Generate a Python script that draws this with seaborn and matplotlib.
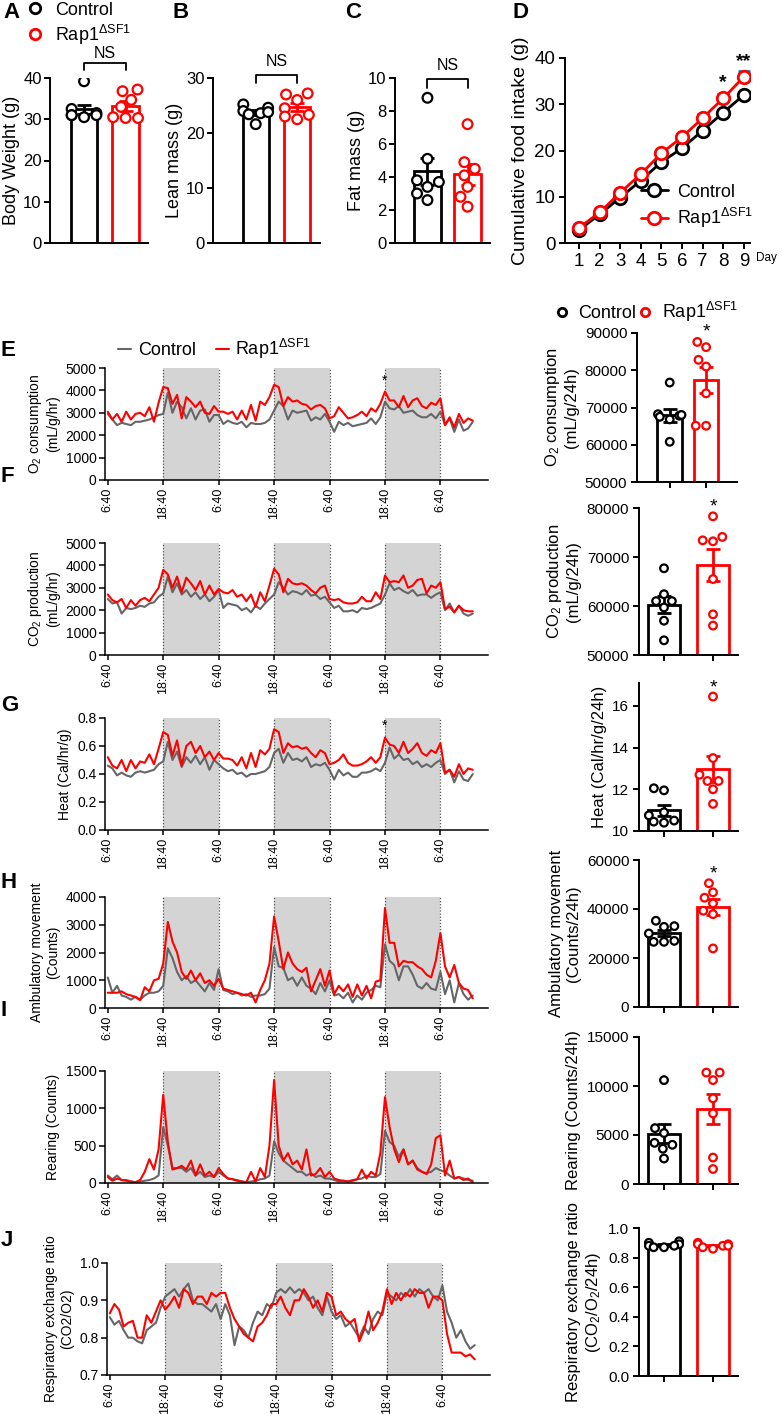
import numpy as np
import pandas as pd
import matplotlib
matplotlib.use("Agg")
import matplotlib.pyplot as plt
from matplotlib.lines import Line2D
from matplotlib.collections import PathCollection
import seaborn as sns

try:
    from seaborn.categorical import Beeswarm
except Exception:  # pragma: no cover
    Beeswarm = None

# ----------------------------------------------------------------- data
GROUPS = ["Control", "Rap1"]
RAP_LABEL = r"Rap1$^{\Delta\mathrm{SF1}}$"

BODY_CTRL = [39.2, 32.5, 31.5, 31.0, 31.0, 30.5, 31.0]
BODY_RAP = [37.2, 36.8, 34.7, 33.0, 30.3, 30.3, 30.5]
LEAN_CTRL = [25.2, 24.6, 24.0, 23.6, 23.4, 23.8, 21.6]
LEAN_RAP = [27.0, 27.2, 26.0, 24.5, 23.3, 23.0, 22.5]
FAT_CTRL = [8.8, 5.1, 3.8, 3.7, 3.4, 3.0, 2.6]
FAT_RAP = [7.2, 4.9, 4.5, 4.1, 3.4, 2.8, 2.2]

DAYS = [1, 2, 3, 4, 5, 6, 7, 8, 9]
FOOD_CTRL = [2.8, 6.2, 9.8, 13.5, 17.5, 20.5, 24.3, 28.2, 32.0]
FOOD_RAP = [3.3, 6.6, 10.9, 14.9, 19.4, 22.9, 27.0, 31.3, 35.9]
FOOD_SEM_CTRL = [0.2, 0.3, 0.3, 0.4, 0.4, 0.5, 0.5, 0.5, 0.6]
FOOD_SEM_RAP = [0.3, 0.4, 0.5, 0.5, 0.6, 0.6, 0.8, 1.0, 1.3]

O2_24_CTRL = [76700, 68200, 67800, 68000, 67500, 66800, 60800]
O2_24_RAP = [87600, 86200, 82800, 81000, 73800, 65100, 65100]
CO2_24_CTRL = [67700, 62400, 61000, 61000, 59700, 57000, 53000]
CO2_24_RAP = [78300, 74100, 73200, 73400, 65500, 58300, 56000]
HEAT_24_CTRL = [12.05, 11.95, 10.9, 10.75, 10.5, 10.4, 10.45]
HEAT_24_RAP = [16.45, 13.5, 12.7, 12.4, 12.4, 12.0, 11.3]
AMB_24_CTRL = [35200, 32700, 33000, 30000, 26600, 26600, 27000]
AMB_24_RAP = [50500, 46800, 44600, 42300, 37900, 39300, 23900]
REAR_24_CTRL = [10600, 5700, 5200, 4200, 4000, 3600, 2600]
REAR_24_RAP = [11370, 11370, 10600, 8740, 7200, 2700, 1530]
RER_24_CTRL = [0.91, 0.90, 0.89, 0.88, 0.88, 0.87, 0.87]
RER_24_RAP = [0.90, 0.89, 0.89, 0.88, 0.88, 0.87, 0.86]

TIME_TICKS = [0, 12, 24, 36, 48, 60, 72]
TIME_LABELS = ["6:40", "18:40", "6:40", "18:40", "6:40", "18:40", "6:40"]
DARK_STARTS = [12, 36, 60]

O2_CTRL = [2950, 2700, 2450, 2550, 2500, 2450, 2600, 2600, 2650, 2700, 2800, 2900, 2950,
           3900, 3000, 3500, 3250, 2750, 3200, 2700, 3100, 3150, 2600, 2900, 2900,
           2500, 2650, 2550, 2500, 2600, 2350, 2550, 2500, 2500, 2550, 2700, 3100,
           3500, 3300, 2700, 3100, 3000, 3050, 3100, 2650, 2800, 2700, 2950, 2600,
           2150, 2600, 2450, 2550, 2400, 2450, 2500, 2550, 2750, 2500, 2800, 3500,
           3200, 3150, 3300, 3000, 3050, 3100, 2900, 2800, 2800, 2950, 2750, 3050,
           2450, 2750, 2150, 2700, 2200, 2300, 2600]
O2_RAP = [3050, 2700, 2950, 2600, 3050, 2700, 2950, 3000, 2850, 3250, 2600, 3450, 4150,
          4100, 3400, 3800, 2750, 3700, 3500, 3250, 3500, 3000, 2950, 3300, 3050,
          3050, 2950, 3050, 2700, 3100, 2700, 3350, 2650, 3500, 3350, 3700, 4250,
          4150, 3300, 3700, 3500, 3550, 3400, 3350, 3150, 3300, 3350, 3200, 2750,
          2850, 3250, 3000, 2750, 2800, 2900, 3050, 2850, 3200, 3050, 3400, 3950,
          3550, 3550, 3250, 3750, 3250, 3550, 3650, 3300, 3200, 3450, 3350, 3650,
          2450, 2800, 2350, 2950, 2550, 2750, 2650]

CO2_CTRL = [2500, 2300, 2350, 1850, 2100, 2050, 2100, 2200, 2150, 2300, 2350, 2600, 2750,
            3500, 2800, 3200, 2700, 2900, 2600, 2800, 2500, 2700, 2400, 2600, 2900,
            2100, 2300, 2250, 2200, 2000, 2100, 1900, 2200, 2050, 2300, 2500, 2700,
            3250, 3000, 2700, 2850, 2800, 2700, 2900, 2650, 2700, 2500, 2600, 2350,
            2100, 2200, 1950, 1950, 2000, 1900, 2100, 2050, 2100, 2200, 2300, 2700,
            3200, 2900, 3000, 2850, 2750, 2900, 2650, 2700, 2700, 2550, 2700, 2800,
            2000, 2300, 1900, 2200, 1850, 1750, 1850]
CO2_RAP = [2700, 2450, 2350, 2500, 2100, 2450, 2200, 2450, 2550, 2400, 2700, 3000, 3800,
           3600, 3000, 3500, 2800, 3450, 3200, 2900, 3300, 2700, 3100, 2700, 2950,
           2800, 2750, 2900, 2600, 2700, 2400, 2700, 2150, 2800, 2400, 3100, 3850,
           3600, 2800, 3400, 3200, 3150, 3200, 3100, 2900, 2750, 3000, 3100, 2500,
           2450, 2500, 2350, 2300, 2300, 2350, 2600, 2400, 2400, 2800, 2500, 3550,
           3250, 3300, 3250, 3550, 3000, 3100, 3350, 3400, 2750, 3100, 3000, 3250,
           2050, 2150, 1900, 2200, 2000, 1950, 1950]

HEAT_CTRL = [0.46, 0.44, 0.39, 0.41, 0.39, 0.38, 0.41, 0.42, 0.41, 0.42, 0.43, 0.47, 0.49,
             0.63, 0.50, 0.56, 0.45, 0.52, 0.48, 0.53, 0.47, 0.52, 0.43, 0.50, 0.47,
             0.44, 0.42, 0.43, 0.40, 0.41, 0.38, 0.40, 0.40, 0.41, 0.42, 0.45, 0.55,
             0.58, 0.48, 0.55, 0.50, 0.51, 0.49, 0.52, 0.45, 0.47, 0.46, 0.48, 0.43,
             0.36, 0.43, 0.39, 0.41, 0.38, 0.38, 0.41, 0.41, 0.42, 0.44, 0.42, 0.48,
             0.59, 0.51, 0.54, 0.50, 0.51, 0.47, 0.49, 0.45, 0.47, 0.45, 0.48, 0.50,
             0.40, 0.43, 0.34, 0.42, 0.36, 0.35, 0.40]
HEAT_RAP = [0.52, 0.46, 0.44, 0.50, 0.42, 0.50, 0.44, 0.49, 0.48, 0.54, 0.47, 0.58, 0.70,
            0.68, 0.53, 0.64, 0.46, 0.60, 0.63, 0.55, 0.60, 0.52, 0.56, 0.50, 0.55,
            0.51, 0.51, 0.50, 0.46, 0.52, 0.44, 0.55, 0.45, 0.57, 0.54, 0.58, 0.72,
            0.70, 0.55, 0.62, 0.59, 0.60, 0.58, 0.59, 0.55, 0.52, 0.57, 0.55, 0.47,
            0.48, 0.50, 0.54, 0.48, 0.46, 0.46, 0.47, 0.49, 0.52, 0.48, 0.52, 0.66,
            0.61, 0.60, 0.55, 0.63, 0.55, 0.58, 0.62, 0.55, 0.53, 0.57, 0.55, 0.62,
            0.41, 0.43, 0.38, 0.47, 0.40, 0.44, 0.43]

AMB_CTRL = [1100, 550, 800, 450, 400, 300, 400, 300, 450, 550, 550, 600, 800,
            2150, 1800, 1300, 1000, 1150, 900, 1000, 800, 600, 900, 650, 1400,
            650, 600, 500, 550, 450, 500, 400, 450, 450, 500, 700, 2200,
            1500, 1450, 1000, 1100, 800, 1100, 800, 700, 500, 900, 600, 1000,
            450, 500, 350, 550, 200, 450, 300, 550, 650, 800, 750, 2300,
            1700, 1550, 1000, 1500, 1500, 1200, 800, 700, 900, 700, 650, 1300,
            500, 1000, 200, 900, 500, 300, 450]
AMB_RAP = [550, 550, 550, 600, 500, 450, 400, 280, 750, 600, 1000, 1050, 1600,
           3100, 2400, 2000, 1300, 1050, 1350, 1000, 1250, 900, 1000, 800, 1050,
           700, 650, 600, 550, 500, 450, 550, 200, 650, 1000, 1600, 3300,
           2400, 1400, 2000, 1600, 1400, 1300, 1450, 600, 1000, 1400, 800, 1350,
           500, 800, 600, 850, 400, 850, 450, 800, 350, 950, 1000, 3600,
           2350, 2350, 1500, 1700, 1650, 1650, 1500, 1400, 1200, 1100, 1700, 2700,
           1500, 1100, 1550, 900, 700, 650, 350]

REAR_CTRL = [100, 50, 100, 40, 40, 20, 10, 20, 30, 40, 60, 100, 750,
             500, 200, 200, 200, 150, 200, 100, 150, 80, 100, 80, 150,
             100, 60, 50, 40, 20, 10, 20, 30, 50, 60, 100, 560,
             400, 300, 250, 200, 150, 150, 100, 130, 80, 100, 60, 60,
             40, 20, 30, 20, 40, 50, 60, 100, 80, 80, 120, 700,
             550, 500, 350, 450, 250, 300, 200, 150, 130, 150, 200, 170,
             150, 100, 60, 80, 60, 40, 30]
REAR_RAP = [80, 30, 60, 40, 30, 20, 10, 40, 150, 320, 180, 450, 1180,
            550, 180, 200, 230, 180, 300, 100, 250, 100, 150, 80, 200,
            120, 60, 50, 30, 20, 10, 150, 20, 200, 80, 500, 1380,
            500, 300, 400, 250, 300, 180, 450, 100, 120, 200, 80, 150,
            60, 40, 30, 20, 30, 50, 180, 60, 150, 100, 400, 1150,
            750, 450, 280, 450, 250, 300, 180, 150, 120, 250, 600, 640,
            100, 300, 60, 80, 40, 60, 10]

RER_CTRL = [0.855, 0.835, 0.845, 0.82, 0.80, 0.80, 0.79, 0.785, 0.82, 0.83, 0.84, 0.88, 0.91,
            0.92, 0.93, 0.91, 0.93, 0.945, 0.90, 0.89, 0.89, 0.88, 0.87, 0.89, 0.85,
            0.89, 0.86, 0.78, 0.83, 0.82, 0.80, 0.84, 0.87, 0.86, 0.89, 0.88, 0.92,
            0.93, 0.92, 0.935, 0.92, 0.93, 0.92, 0.90, 0.91, 0.88, 0.86, 0.91, 0.87,
            0.85, 0.86, 0.83, 0.84, 0.82, 0.80, 0.83, 0.81, 0.85, 0.87, 0.86, 0.92,
            0.91, 0.90, 0.92, 0.91, 0.93, 0.91, 0.93, 0.92, 0.93, 0.91, 0.90, 0.94,
            0.87, 0.84, 0.80, 0.82, 0.79, 0.77, 0.78]
RER_RAP = [0.865, 0.89, 0.875, 0.83, 0.84, 0.845, 0.80, 0.80, 0.86, 0.84, 0.87, 0.90, 0.875,
           0.89, 0.91, 0.88, 0.93, 0.92, 0.89, 0.91, 0.91, 0.89, 0.92, 0.91, 0.92,
           0.92, 0.88, 0.85, 0.83, 0.81, 0.80, 0.79, 0.83, 0.84, 0.86, 0.89, 0.89,
           0.91, 0.88, 0.86, 0.90, 0.90, 0.93, 0.91, 0.88, 0.90, 0.87, 0.92, 0.91,
           0.86, 0.87, 0.85, 0.84, 0.85, 0.79, 0.82, 0.87, 0.82, 0.84, 0.87, 0.93,
           0.89, 0.92, 0.90, 0.92, 0.91, 0.93, 0.92, 0.92, 0.88, 0.91, 0.91, 0.90,
           0.81, 0.76, 0.76, 0.76, 0.75, 0.755, 0.742]

# ----------------------------------------------------------------- style
sns.set_style("ticks")
plt.rcParams["font.family"] = ["Liberation Sans", "DejaVu Sans"]
plt.rcParams["mathtext.fontset"] = "custom"
plt.rcParams["mathtext.rm"] = "Liberation Sans"
plt.rcParams["mathtext.it"] = "Liberation Sans:italic"
plt.rcParams["mathtext.bf"] = "Liberation Sans:bold"
plt.rcParams["axes.edgecolor"] = "black"
plt.rcParams["xtick.color"] = "black"
plt.rcParams["ytick.color"] = "black"
plt.rcParams["text.color"] = "black"
plt.rcParams["axes.labelcolor"] = "black"

BLACK = "#000000"
RED = "#ff0000"
GREY = "#666666"
SHADE = "#d4d4d4"
BAR_PAL = {"Control": BLACK, "Rap1": RED}
TS_PAL = {"Control": GREY, "Rap1": RED}

W, H = 782, 1414
fig = plt.figure(figsize=(W / 100, H / 100), dpi=100)


def px_ax(l, t, r, b):
    return fig.add_axes([l / W, 1 - b / H, (r - l) / W, (b - t) / H])


def style_axes(ax, lw, pad=3):
    sns.despine(ax=ax)
    for s in ("left", "bottom"):
        ax.spines[s].set_linewidth(lw)
    ax.tick_params(width=lw, length=4, direction="out", pad=pad)


def narrow_swarm(coll, swarm_width):
    """Re-run seaborn's beeswarm layout with a narrower swarm width."""
    if Beeswarm is None:
        return
    try:
        bs = Beeswarm(orient="x", width=swarm_width, warn_thresh=1.0)
    except TypeError:
        return
    center = float(np.round(np.mean(np.asarray(coll.get_offsets())[:, 0])))

    def draw(points, renderer, *, center=center):
        bs(points, center)
        PathCollection.draw(points, renderer)

    coll.draw = draw.__get__(coll)


def bar_panel(ax, ctrl, rap, ylim, yticks, yticklabels, ylabel, width, xlim,
              msize, tick_fs, label_fs, show_xticks=True, labelpad=4, pad=3):
    df = pd.DataFrame({"group": [GROUPS[0]] * len(ctrl) + [GROUPS[1]] * len(rap),
                       "value": list(ctrl) + list(rap)})
    sns.barplot(data=df, x="group", y="value", hue="group", order=GROUPS,
                hue_order=GROUPS, palette=BAR_PAL, errorbar=None, fill=False,
                linewidth=2, width=width, legend=False, ax=ax)
    for i, (g, vals) in enumerate(zip(GROUPS, (ctrl, rap))):
        arr = np.asarray(vals, float)
        sem = arr.std(ddof=1) / np.sqrt(len(arr))
        ax.errorbar(i, arr.mean(), yerr=sem, fmt="none", ecolor=BAR_PAL[g],
                    elinewidth=2, capsize=5, capthick=2, zorder=2.5)
    n_before = len(ax.collections)
    sns.swarmplot(data=df, x="group", y="value", hue="group", order=GROUPS,
                  hue_order=GROUPS, palette=BAR_PAL, size=msize, linewidth=1.6,
                  warn_thresh=1.0, legend=False, ax=ax, zorder=3)
    for coll in ax.collections[n_before:]:
        if isinstance(coll, PathCollection):
            fc = coll.get_facecolors()
            if len(fc):
                coll.set_edgecolors(fc.copy())
                coll.set_facecolors("white")
            narrow_swarm(coll, width * 0.95)
    ax.set_ylim(*ylim)
    ax.set_yticks(yticks, yticklabels, fontsize=tick_fs)
    ax.set_xlim(*xlim)
    ax.set_xlabel("")
    ax.set_ylabel(ylabel, fontsize=label_fs, labelpad=labelpad)
    style_axes(ax, 1.4, pad=pad)
    if show_xticks:
        ax.set_xticks([0, 1], ["", ""])
    else:
        ax.tick_params(axis="x", length=0, labelbottom=False)


def ts_panel(ax, ctrl, rap, ylim, yticks, yticklabels, ylabel):
    hours = np.arange(len(ctrl))
    for s in DARK_STARTS:
        ax.axvspan(s, s + 12, color=SHADE, lw=0, zorder=0)
        for xv in (s, s + 12):
            ax.axvline(xv, color="#555555", lw=0.9, ls=(0, (1, 1.5)), zorder=1)
    df = pd.DataFrame({"t": np.concatenate([hours, hours]),
                       "value": list(ctrl) + list(rap),
                       "group": [GROUPS[0]] * len(ctrl) + [GROUPS[1]] * len(rap)})
    sns.lineplot(data=df, x="t", y="value", hue="group", hue_order=GROUPS,
                 palette=TS_PAL, linewidth=1.5, errorbar=None, legend=False,
                 ax=ax, zorder=2)
    ax.set_xlim(-0.6, 82.3)
    ax.set_ylim(*ylim)
    ax.set_yticks(yticks, yticklabels, fontsize=10)
    ax.set_xticks(TIME_TICKS, TIME_LABELS, rotation=90, fontsize=9)
    ax.set_xlabel("")
    ax.set_ylabel(ylabel, fontsize=10)
    style_axes(ax, 1.1, pad=2)
    ax.tick_params(axis="x", length=3.5)


# ----------------------------------------------------------------- top row
axA = px_ax(50, 78, 148, 243)
bar_panel(axA, BODY_CTRL, BODY_RAP, (0, 40), [0, 10, 20, 30, 40],
          ["0", "10", "20", "30", "40"], "Body Weight (g)", 0.63, (-0.82, 1.54),
          7, 12, 13, show_xticks=False, labelpad=2, pad=2)
axB = px_ax(213, 78, 320, 243)
bar_panel(axB, LEAN_CTRL, LEAN_RAP, (0, 30), [0, 10, 20, 30],
          ["0", "10", "20", "30"], "Lean mass (g)", 0.63, (-1.03, 1.55),
          7, 12, 13, show_xticks=False, labelpad=2, pad=2)
axC = px_ax(395, 78, 490, 243)
bar_panel(axC, FAT_CTRL, FAT_RAP, (0, 10), [0, 2, 4, 6, 8, 10],
          ["0", "2", "4", "6", "8", "10"], "Fat mass (g)", 0.66, (-0.81, 1.56),
          7, 12, 13, show_xticks=False, labelpad=2, pad=2)

for ax, ybar, yleg, ytxt in ((axA, 43.6, 41.9, 45.9), (axB, 30.5, 29.1, 33.0),
                             (axC, 9.94, 9.4, 10.75)):
    ax.plot([0, 0, 1, 1], [yleg, ybar, ybar, yleg], color="black", lw=1.3,
            clip_on=False)
    ax.text(0.5, ytxt, "NS", ha="center", va="center", fontsize=11.5)

# D: cumulative food intake
axD = px_ax(565, 58, 750, 243)
food_df = pd.DataFrame({"day": DAYS + DAYS, "value": FOOD_CTRL + FOOD_RAP,
                        "group": [GROUPS[0]] * len(DAYS) + [GROUPS[1]] * len(DAYS)})
for g, vals, sems in ((GROUPS[0], FOOD_CTRL, FOOD_SEM_CTRL),
                      (GROUPS[1], FOOD_RAP, FOOD_SEM_RAP)):
    axD.errorbar(DAYS, vals, yerr=[np.zeros(len(sems)), sems], fmt="none",
                 ecolor=BAR_PAL[g], elinewidth=2, capsize=4, capthick=2, zorder=2)
sns.lineplot(data=food_df, x="day", y="value", hue="group", hue_order=GROUPS,
             palette=BAR_PAL, marker="o", markersize=9, markerfacecolor="white",
             markeredgewidth=2, linewidth=2, errorbar=None, legend=False, ax=axD,
             zorder=3)
for ln in axD.lines:
    ln.set_markeredgecolor(ln.get_color())
axD.set_xlim(0.32, 9.3)
axD.set_ylim(0, 40)
axD.set_xticks(DAYS, [str(d) for d in DAYS], fontsize=13.5)
axD.set_yticks([0, 10, 20, 30, 40], ["0", "10", "20", "30", "40"], fontsize=13.5)
axD.set_xlabel("")
axD.set_ylabel("Cumulative food intake (g)", fontsize=14)
style_axes(axD, 1.4)
axD.text(8, 34.6, "*", ha="center", va="center", fontsize=14, fontweight="bold")
axD.text(9, 39.2, "**", ha="center", va="center", fontsize=14, fontweight="bold",
         clip_on=False)
fig.text(756 / W, 1 - 258 / H, "Day", fontsize=8.5, ha="left", va="center")
d_handles = [Line2D([], [], color=BLACK, lw=2, marker="o", ms=9, mfc="white",
                    mec=BLACK, mew=2),
             Line2D([], [], color=RED, lw=2, marker="o", ms=9, mfc="white",
                    mec=RED, mew=2)]
axD.legend(d_handles, ["Control", RAP_LABEL], loc="upper left",
           bbox_to_anchor=(0.37, 0.36), frameon=False, fontsize=13,
           handlelength=1.5, handletextpad=0.5, labelspacing=0.3, borderaxespad=0)

# ----------------------------------------------------------------- time series
axE = px_ax(105, 368, 488, 480)
ts_panel(axE, O2_CTRL, O2_RAP, (0, 5000), [0, 1000, 2000, 3000, 4000, 5000],
         ["0", "1000", "2000", "3000", "4000", "5000"],
         "O$_2$ consumption\n(mL/g/hr)")
axE.text(60, 4420, "*", ha="center", va="center", fontsize=10)

axF = px_ax(105, 543, 488, 655)
ts_panel(axF, CO2_CTRL, CO2_RAP, (0, 5000), [0, 1000, 2000, 3000, 4000, 5000],
         ["0", "1000", "2000", "3000", "4000", "5000"],
         "CO$_2$ production\n(mL/g/hr)")

axG = px_ax(105, 718, 488, 830)
ts_panel(axG, HEAT_CTRL, HEAT_RAP, (0, 0.8), [0, 0.2, 0.4, 0.6, 0.8],
         ["0.0", "0.2", "0.4", "0.6", "0.8"], "Heat (Cal/hr/g)")
axG.text(60, 0.743, "*", ha="center", va="center", fontsize=10)

axH = px_ax(105, 897, 488, 1008)
ts_panel(axH, AMB_CTRL, AMB_RAP, (0, 4000), [0, 1000, 2000, 3000, 4000],
         ["0", "1000", "2000", "3000", "4000"], "Ambulatory movement\n(Counts)")

axI = px_ax(105, 1071, 488, 1183)
ts_panel(axI, REAR_CTRL, REAR_RAP, (0, 1500), [0, 500, 1000, 1500],
         ["0", "500", "1000", "1500"], "Rearing (Counts)")

axJ = px_ax(107, 1263, 490, 1375)
ts_panel(axJ, RER_CTRL, RER_RAP, (0.7, 1.0), [0.7, 0.8, 0.9, 1.0],
         ["0.7", "0.8", "0.9", "1.0"], "Respiratory exchange ratio\n(CO2/O2)")

fig.legend([Line2D([], [], color=GREY, lw=1.5), Line2D([], [], color=RED, lw=1.5)],
           ["Control", RAP_LABEL], loc="center left",
           bbox_to_anchor=(116 / W, 1 - 349 / H), ncol=2, frameon=False,
           fontsize=13, handlelength=0.75, handletextpad=0.35, columnspacing=1.1,
           borderaxespad=0, borderpad=0.1)

# ----------------------------------------------------------------- right bars
xl_e = (-0.9, 1.85)
xl_r = (-0.51, 1.51)
axE2 = px_ax(637, 333, 737, 482)
bar_panel(axE2, O2_24_CTRL, O2_24_RAP, (50000, 90000),
          [50000, 60000, 70000, 80000, 90000],
          ["50000", "60000", "70000", "80000", "90000"],
          "O$_2$ consumption\n(mL/g/24h)", 0.68, xl_e, 5.5, 11, 12)
axE2.text(1, 90200, "*", ha="center", va="center", fontsize=14, clip_on=False)

axF2 = px_ax(639, 508, 738, 655)
bar_panel(axF2, CO2_24_CTRL, CO2_24_RAP, (50000, 80000),
          [50000, 60000, 70000, 80000], ["50000", "60000", "70000", "80000"],
          "CO$_2$ production\n(mL/g/24h)", 0.65, xl_r, 5.5, 11, 12)
axF2.text(1, 80200, "*", ha="center", va="center", fontsize=14, clip_on=False)

axG2 = px_ax(639, 683, 738, 831)
bar_panel(axG2, HEAT_24_CTRL, HEAT_24_RAP, (10, 17.1), [10, 12, 14, 16],
          ["10", "12", "14", "16"], "Heat (Cal/hr/g/24h)", 0.65, xl_r, 5.5, 11, 12)
axG2.text(1, 16.85, "*", ha="center", va="center", fontsize=14, clip_on=False)

axH2 = px_ax(639, 860, 738, 1007)
bar_panel(axH2, AMB_24_CTRL, AMB_24_RAP, (0, 60000), [0, 20000, 40000, 60000],
          ["0", "20000", "40000", "60000"],
          "Ambulatory movement\n(Counts/24h)", 0.65, xl_r, 5.5, 11, 12)
axH2.text(1, 54300, "*", ha="center", va="center", fontsize=14, clip_on=False)

axI2 = px_ax(639, 1037, 738, 1184)
bar_panel(axI2, REAR_24_CTRL, REAR_24_RAP, (0, 15000), [0, 5000, 10000, 15000],
          ["0", "5000", "10000", "15000"], "Rearing (Counts/24h)", 0.65, xl_r,
          5.5, 11, 12)

axJ2 = px_ax(639, 1228, 738, 1376)
bar_panel(axJ2, RER_24_CTRL, RER_24_RAP, (0, 1.0), [0, 0.2, 0.4, 0.6, 0.8, 1.0],
          ["0.0", "0.2", "0.4", "0.6", "0.8", "1.0"],
          "Respiratory exchange ratio\n(CO$_2$/O$_2$/24h)", 0.65, xl_r, 5.5, 11, 12)

# ----------------------------------------------------------------- legends
def circle(c, ms):
    return Line2D([], [], ls="none", marker="o", ms=ms, mfc="white", mec=c, mew=2)


fig.legend([circle(BLACK, 7.5), circle(RED, 7.5)], ["Control", RAP_LABEL],
           loc="upper left", bbox_to_anchor=(24 / W, 1 - 0 / H), frameon=False,
           fontsize=13, handlelength=1.0, handletextpad=0.6, labelspacing=0.2,
           borderaxespad=0, borderpad=0.1)
fig.legend([circle(BLACK, 6), circle(RED, 6)], ["Control", RAP_LABEL],
           loc="center left", bbox_to_anchor=(553 / W, 1 - 312 / H), ncol=2,
           frameon=False, fontsize=13, handlelength=0.8, handletextpad=0.5,
           columnspacing=0.1, borderaxespad=0, borderpad=0.1)

# ----------------------------------------------------------------- panel letters
for letter, x, y in (("A", 3, 12), ("B", 172, 12), ("C", 345, 12), ("D", 513, 12),
                     ("E", 1, 350), ("F", 1, 476), ("G", 1, 705), ("H", 1, 882),
                     ("I", 1, 1010), ("J", 1, 1241)):
    fig.text(x / W, 1 - y / H, letter, fontsize=16, fontweight="bold",
             ha="left", va="center")

fig.savefig("out.png", dpi=100)
